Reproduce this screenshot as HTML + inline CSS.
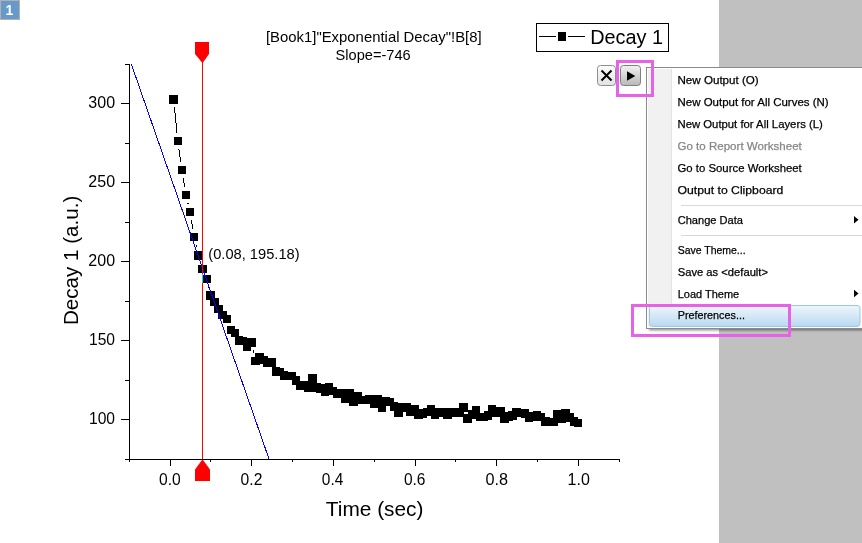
<!DOCTYPE html>
<html><head><meta charset="utf-8"><title>Graph</title>
<style>
html,body{margin:0;padding:0;background:#fff;}
body{width:862px;height:543px;position:relative;overflow:hidden;font-family:"Liberation Sans",sans-serif;}
</style></head><body>
<svg width="862" height="543" viewBox="0 0 862 543" style="position:absolute;left:0;top:0" font-family="'Liberation Sans', sans-serif">
<rect x="0" y="0" width="862" height="543" fill="#fff"/>
<rect x="719" y="0" width="143" height="543" fill="#c0c0c0"/>
<g stroke="#000" stroke-width="1" shape-rendering="crispEdges">
<line x1="174.5" y1="107.5" x2="177.0" y2="133.0"/>
<line x1="178.9" y1="148.9" x2="180.8" y2="162.1"/>
<line x1="183.2" y1="177.9" x2="184.7" y2="187.1"/>
<line x1="187.8" y1="202.8" x2="188.2" y2="204.2"/>
<line x1="191.3" y1="219.9" x2="192.8" y2="229.1"/>
<line x1="195.9" y1="244.8" x2="196.5" y2="247.5"/>
<line x1="208.3" y1="286.8" x2="208.5" y2="287.7"/>
<line x1="253.0" y1="350.1" x2="253.7" y2="353.2"/>
</g>
<g fill="#000" shape-rendering="crispEdges">
<rect x="169.47" y="95.25" width="8.5" height="8.5"/>
<rect x="173.55" y="136.75" width="8.5" height="8.5"/>
<rect x="177.63" y="165.75" width="8.5" height="8.5"/>
<rect x="181.72" y="190.75" width="8.5" height="8.5"/>
<rect x="185.80" y="207.75" width="8.5" height="8.5"/>
<rect x="189.88" y="232.75" width="8.5" height="8.5"/>
<rect x="193.97" y="251.05" width="8.5" height="8.5"/>
<rect x="198.05" y="264.55" width="8.5" height="8.5"/>
<rect x="202.13" y="274.75" width="8.5" height="8.5"/>
<rect x="206.22" y="291.25" width="8.5" height="8.5"/>
<rect x="210.30" y="297.75" width="8.5" height="8.5"/>
<rect x="214.38" y="304.75" width="8.5" height="8.5"/>
<rect x="218.47" y="310.75" width="8.5" height="8.5"/>
<rect x="222.55" y="314.75" width="8.5" height="8.5"/>
<rect x="226.63" y="325.75" width="8.5" height="8.5"/>
<rect x="230.72" y="328.55" width="8.5" height="8.5"/>
<rect x="234.80" y="336.25" width="8.5" height="8.5"/>
<rect x="238.88" y="336.75" width="8.5" height="8.5"/>
<rect x="242.97" y="342.05" width="8.5" height="8.5"/>
<rect x="247.05" y="338.05" width="8.5" height="8.5"/>
<rect x="251.13" y="356.75" width="8.5" height="8.5"/>
<rect x="255.22" y="353.25" width="8.5" height="8.5"/>
<rect x="259.30" y="355.75" width="8.5" height="8.5"/>
<rect x="263.38" y="358.15" width="8.5" height="8.5"/>
<rect x="267.47" y="358.15" width="8.5" height="8.5"/>
<rect x="271.55" y="367.45" width="8.5" height="8.5"/>
<rect x="275.63" y="367.75" width="8.5" height="8.5"/>
<rect x="279.72" y="371.45" width="8.5" height="8.5"/>
<rect x="283.80" y="371.75" width="8.5" height="8.5"/>
<rect x="287.88" y="371.75" width="8.5" height="8.5"/>
<rect x="291.97" y="376.15" width="8.5" height="8.5"/>
<rect x="296.05" y="381.95" width="8.5" height="8.5"/>
<rect x="300.13" y="380.55" width="8.5" height="8.5"/>
<rect x="304.22" y="383.05" width="8.5" height="8.5"/>
<rect x="308.30" y="374.25" width="8.5" height="8.5"/>
<rect x="312.38" y="383.05" width="8.5" height="8.5"/>
<rect x="316.47" y="384.25" width="8.5" height="8.5"/>
<rect x="320.55" y="387.15" width="8.5" height="8.5"/>
<rect x="324.63" y="383.35" width="8.5" height="8.5"/>
<rect x="328.71" y="386.75" width="8.5" height="8.5"/>
<rect x="332.80" y="389.95" width="8.5" height="8.5"/>
<rect x="336.88" y="388.75" width="8.5" height="8.5"/>
<rect x="340.96" y="394.15" width="8.5" height="8.5"/>
<rect x="345.05" y="389.25" width="8.5" height="8.5"/>
<rect x="349.13" y="397.25" width="8.5" height="8.5"/>
<rect x="353.21" y="392.05" width="8.5" height="8.5"/>
<rect x="357.30" y="395.55" width="8.5" height="8.5"/>
<rect x="361.38" y="395.75" width="8.5" height="8.5"/>
<rect x="365.46" y="394.55" width="8.5" height="8.5"/>
<rect x="369.55" y="399.05" width="8.5" height="8.5"/>
<rect x="373.63" y="394.55" width="8.5" height="8.5"/>
<rect x="377.71" y="403.25" width="8.5" height="8.5"/>
<rect x="381.80" y="397.25" width="8.5" height="8.5"/>
<rect x="385.88" y="397.55" width="8.5" height="8.5"/>
<rect x="389.96" y="402.45" width="8.5" height="8.5"/>
<rect x="394.05" y="408.05" width="8.5" height="8.5"/>
<rect x="398.13" y="403.25" width="8.5" height="8.5"/>
<rect x="402.21" y="403.35" width="8.5" height="8.5"/>
<rect x="406.30" y="407.75" width="8.5" height="8.5"/>
<rect x="410.38" y="405.45" width="8.5" height="8.5"/>
<rect x="414.46" y="410.55" width="8.5" height="8.5"/>
<rect x="418.55" y="409.25" width="8.5" height="8.5"/>
<rect x="422.63" y="407.95" width="8.5" height="8.5"/>
<rect x="426.71" y="405.35" width="8.5" height="8.5"/>
<rect x="430.80" y="410.25" width="8.5" height="8.5"/>
<rect x="434.88" y="407.55" width="8.5" height="8.5"/>
<rect x="438.96" y="408.15" width="8.5" height="8.5"/>
<rect x="443.05" y="410.95" width="8.5" height="8.5"/>
<rect x="447.13" y="408.35" width="8.5" height="8.5"/>
<rect x="451.21" y="408.35" width="8.5" height="8.5"/>
<rect x="455.30" y="408.55" width="8.5" height="8.5"/>
<rect x="459.38" y="403.35" width="8.5" height="8.5"/>
<rect x="463.46" y="414.15" width="8.5" height="8.5"/>
<rect x="467.55" y="410.35" width="8.5" height="8.5"/>
<rect x="471.63" y="406.45" width="8.5" height="8.5"/>
<rect x="475.71" y="412.55" width="8.5" height="8.5"/>
<rect x="479.80" y="412.55" width="8.5" height="8.5"/>
<rect x="483.88" y="411.05" width="8.5" height="8.5"/>
<rect x="487.96" y="405.35" width="8.5" height="8.5"/>
<rect x="492.05" y="408.55" width="8.5" height="8.5"/>
<rect x="496.13" y="407.45" width="8.5" height="8.5"/>
<rect x="500.21" y="414.55" width="8.5" height="8.5"/>
<rect x="504.30" y="412.15" width="8.5" height="8.5"/>
<rect x="508.38" y="411.05" width="8.5" height="8.5"/>
<rect x="512.46" y="408.35" width="8.5" height="8.5"/>
<rect x="516.55" y="408.85" width="8.5" height="8.5"/>
<rect x="520.63" y="409.45" width="8.5" height="8.5"/>
<rect x="524.71" y="413.75" width="8.5" height="8.5"/>
<rect x="528.80" y="412.25" width="8.5" height="8.5"/>
<rect x="532.88" y="411.25" width="8.5" height="8.5"/>
<rect x="536.96" y="412.55" width="8.5" height="8.5"/>
<rect x="541.05" y="417.25" width="8.5" height="8.5"/>
<rect x="545.13" y="417.75" width="8.5" height="8.5"/>
<rect x="549.21" y="417.55" width="8.5" height="8.5"/>
<rect x="553.30" y="410.15" width="8.5" height="8.5"/>
<rect x="557.38" y="414.75" width="8.5" height="8.5"/>
<rect x="561.46" y="408.55" width="8.5" height="8.5"/>
<rect x="565.55" y="413.35" width="8.5" height="8.5"/>
<rect x="569.63" y="417.35" width="8.5" height="8.5"/>
<rect x="573.71" y="418.55" width="8.5" height="8.5"/>
</g>
<line x1="131.3" y1="64" x2="269" y2="459" stroke="#0000ff" stroke-width="1" shape-rendering="crispEdges"/>
<rect x="202" y="60" width="1" height="400" fill="#ff0000" shape-rendering="crispEdges"/>
<rect x="202" y="274" width="1" height="9" fill="#00e0e0" shape-rendering="crispEdges"/>
<polygon points="195,42 209,42 209,54 203,62.5 202,62.5 195,54" fill="#ff0000"/>
<polygon points="195,481 210,481 210,469.5 203,460 202,460 195,469.5" fill="#ff0000"/>
<g fill="#000" shape-rendering="crispEdges">
<rect x="129" y="64" width="1" height="396"/>
<rect x="125" y="459" width="495" height="1"/>
<rect x="125" y="459" width="4" height="1"/>
<rect x="121" y="419" width="8" height="1"/>
<rect x="125" y="380" width="4" height="1"/>
<rect x="121" y="340" width="8" height="1"/>
<rect x="125" y="301" width="4" height="1"/>
<rect x="121" y="261" width="8" height="1"/>
<rect x="125" y="222" width="4" height="1"/>
<rect x="121" y="182" width="8" height="1"/>
<rect x="125" y="143" width="4" height="1"/>
<rect x="121" y="103" width="8" height="1"/>
<rect x="125" y="64" width="4" height="1"/>
<rect x="129" y="459" width="1" height="3"/>
<rect x="170" y="459" width="1" height="7"/>
<rect x="210" y="459" width="1" height="3"/>
<rect x="251" y="459" width="1" height="7"/>
<rect x="292" y="459" width="1" height="3"/>
<rect x="333" y="459" width="1" height="7"/>
<rect x="374" y="459" width="1" height="3"/>
<rect x="415" y="459" width="1" height="7"/>
<rect x="455" y="459" width="1" height="3"/>
<rect x="496" y="459" width="1" height="7"/>
<rect x="537" y="459" width="1" height="3"/>
<rect x="578" y="459" width="1" height="7"/>
<rect x="619" y="459" width="1" height="3"/>
</g>
<rect x="536.5" y="23.5" width="132" height="28" fill="#fff" stroke="#000" stroke-width="1" shape-rendering="crispEdges"/>
<g fill="#000" shape-rendering="crispEdges"><rect x="539" y="36" width="17" height="1"/><rect x="568" y="36" width="17" height="1"/><rect x="558" y="32" width="8" height="9"/></g>
<defs><linearGradient id="g1" x1="0" y1="0" x2="0" y2="1"><stop offset="0" stop-color="#fcfcfc"/><stop offset="1" stop-color="#e2e2e2"/></linearGradient><linearGradient id="g2" x1="0" y1="0" x2="0" y2="1"><stop offset="0" stop-color="#f2f2f2"/><stop offset="1" stop-color="#b8b8b8"/></linearGradient><linearGradient id="g3" x1="0" y1="0" x2="0" y2="1"><stop offset="0" stop-color="#eef6fc"/><stop offset="1" stop-color="#b9d9f2"/></linearGradient><filter id="sh" x="-5%" y="-5%" width="115%" height="115%"><feGaussianBlur stdDeviation="1"/></filter></defs>
<rect x="597.5" y="65.5" width="18" height="20" rx="3" fill="url(#g1)" stroke="#8e8e8e"/>
<path d="M601.5 70.5 L611.5 80.5 M611.5 70.5 L601.5 80.5" stroke="#000" stroke-width="2" fill="none"/>
<rect x="620.5" y="65.5" width="20" height="20" rx="3" fill="url(#g2)" stroke="#808080"/>
<path d="M627 71.2 L635.3 76 L627 80.8 Z" fill="#000"/>
<rect x="649" y="70" width="220" height="260.5" fill="#000" opacity="0.4" filter="url(#sh)"/>
<rect x="646.5" y="67.5" width="230" height="261" fill="#fff" stroke="#8a8a8a" shape-rendering="crispEdges"/>
<rect x="648" y="69" width="23" height="258" fill="#f1f1f1" shape-rendering="crispEdges"/>
<rect x="671" y="69" width="1" height="258" fill="#e2e3e3" shape-rendering="crispEdges"/>
<rect x="681" y="205" width="190" height="1" fill="#d9d9d9" shape-rendering="crispEdges"/>
<rect x="681" y="235" width="190" height="1" fill="#d9d9d9" shape-rendering="crispEdges"/>
<rect x="649.5" y="305.5" width="210.5" height="21" rx="3" fill="url(#g3)" stroke="#9cc8e6"/>
<path d="M854 216 L858.5 219.7 L854 223.4 Z" fill="#000"/>
<path d="M854 289.8 L858.5 293.5 L854 297.2 Z" fill="#000"/>
<text x="265.95" y="41.80" font-size="14.2" textLength="215.74" lengthAdjust="spacingAndGlyphs" fill="#000">[Book1]"Exponential Decay"!B[8]</text>
<text x="335.60" y="59.50" font-size="14.2" textLength="75.09" lengthAdjust="spacingAndGlyphs" fill="#000">Slope=-746</text>
<text x="208.30" y="258.50" font-size="14.0" textLength="91.29" lengthAdjust="spacingAndGlyphs" fill="#000">(0.08, 195.18)</text>
<text x="590.23" y="44.10" font-size="20.5" textLength="72.86" lengthAdjust="spacingAndGlyphs" fill="#000">Decay 1</text>
<text x="325.80" y="515.50" font-size="20.3" textLength="97.67" lengthAdjust="spacingAndGlyphs" fill="#000">Time (sec)</text>
<text x="88.30" y="108.00" font-size="16.3" textLength="26.75" lengthAdjust="spacingAndGlyphs" fill="#000">300</text>
<text x="88.30" y="187.00" font-size="16.3" textLength="26.75" lengthAdjust="spacingAndGlyphs" fill="#000">250</text>
<text x="88.30" y="266.00" font-size="16.3" textLength="26.75" lengthAdjust="spacingAndGlyphs" fill="#000">200</text>
<text x="88.94" y="345.00" font-size="16.3" textLength="26.11" lengthAdjust="spacingAndGlyphs" fill="#000">150</text>
<text x="88.94" y="424.00" font-size="16.3" textLength="26.11" lengthAdjust="spacingAndGlyphs" fill="#000">100</text>
<text x="159.00" y="485.00" font-size="16.3" textLength="21.75" lengthAdjust="spacingAndGlyphs" fill="#000">0.0</text>
<text x="240.60" y="485.00" font-size="16.3" textLength="21.75" lengthAdjust="spacingAndGlyphs" fill="#000">0.2</text>
<text x="321.80" y="485.00" font-size="16.3" textLength="21.45" lengthAdjust="spacingAndGlyphs" fill="#000">0.4</text>
<text x="403.90" y="485.00" font-size="16.3" textLength="21.55" lengthAdjust="spacingAndGlyphs" fill="#000">0.6</text>
<text x="485.50" y="485.00" font-size="16.3" textLength="22.55" lengthAdjust="spacingAndGlyphs" fill="#000">0.8</text>
<text x="567.62" y="485.00" font-size="16.3" textLength="22.24" lengthAdjust="spacingAndGlyphs" fill="#000">1.0</text>
<text x="677.50" y="83.80" font-size="11.7" textLength="81.19" lengthAdjust="spacingAndGlyphs" fill="#000" stroke="#000" stroke-width="0.25">New Output (O)</text>
<text x="677.50" y="105.80" font-size="11.7" textLength="151.19" lengthAdjust="spacingAndGlyphs" fill="#000" stroke="#000" stroke-width="0.25">New Output for All Curves (N)</text>
<text x="677.50" y="127.70" font-size="11.7" textLength="145.30" lengthAdjust="spacingAndGlyphs" fill="#000" stroke="#000" stroke-width="0.25">New Output for All Layers (L)</text>
<text x="677.50" y="149.80" font-size="11.7" textLength="124.26" lengthAdjust="spacingAndGlyphs" fill="#868686" stroke="#868686" stroke-width="0.25">Go to Report Worksheet</text>
<text x="677.50" y="171.60" font-size="11.7" textLength="124.27" lengthAdjust="spacingAndGlyphs" fill="#000" stroke="#000" stroke-width="0.25">Go to Source Worksheet</text>
<text x="677.50" y="193.60" font-size="11.7" textLength="105.82" lengthAdjust="spacingAndGlyphs" fill="#000" stroke="#000" stroke-width="0.25">Output to Clipboard</text>
<text x="677.70" y="223.90" font-size="11.7" textLength="65.33" lengthAdjust="spacingAndGlyphs" fill="#000" stroke="#000" stroke-width="0.25">Change Data</text>
<text x="677.70" y="253.90" font-size="11.7" textLength="67.92" lengthAdjust="spacingAndGlyphs" fill="#000" stroke="#000" stroke-width="0.25">Save Theme...</text>
<text x="677.70" y="275.50" font-size="11.7" textLength="90.33" lengthAdjust="spacingAndGlyphs" fill="#000" stroke="#000" stroke-width="0.25">Save as &lt;default&gt;</text>
<text x="677.70" y="297.60" font-size="11.7" textLength="61.47" lengthAdjust="spacingAndGlyphs" fill="#000" stroke="#000" stroke-width="0.25">Load Theme</text>
<text x="677.70" y="319.30" font-size="11.7" textLength="67.23" lengthAdjust="spacingAndGlyphs" fill="#000" stroke="#000" stroke-width="0.25">Preferences...</text>
<text transform="translate(78,324.1) rotate(-90)" x="-1.02" y="0" font-size="20.3" textLength="129.38" lengthAdjust="spacingAndGlyphs" fill="#000">Decay 1 (a.u.)</text>
<rect x="0.5" y="0.5" width="19" height="19" fill="#6699cc" stroke="#b4b0aa" shape-rendering="crispEdges"/>
<text x="5.4" y="15" font-size="14" font-weight="bold" fill="#fff">1</text>
<rect x="617.5" y="61.5" width="35" height="34" fill="none" stroke="#e862e8" stroke-width="3"/>
<rect x="632.5" y="305.5" width="157" height="30" fill="none" stroke="#e862e8" stroke-width="3"/>
</svg>
</body></html>
